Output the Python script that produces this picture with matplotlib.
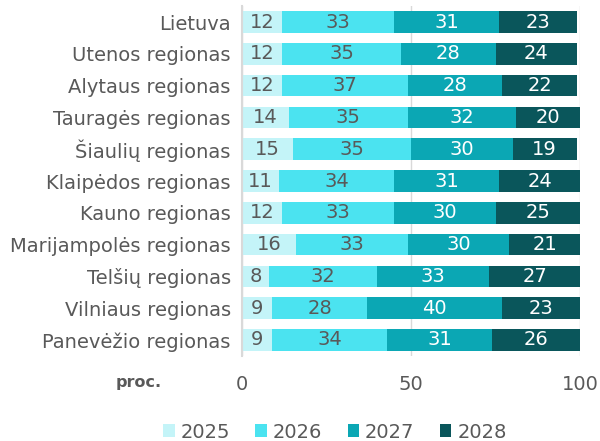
import numpy as np
import matplotlib.pyplot as plt

regions = ['Lietuva', 'Utenos regionas', 'Alytaus regionas', 'Tauragės regionas',
           'Šiaulių regionas', 'Klaipėdos regionas', 'Kauno regionas',
           'Marijampolės regionas', 'Telšių regionas', 'Vilniaus regionas',
           'Panevėžio regionas']
years = ['2025', '2026', '2027', '2028']
v2025 = [12, 12, 12, 14, 15, 11, 12, 16, 8, 9, 9]
v2026 = [33, 35, 37, 35, 35, 34, 33, 33, 32, 28, 34]
v2027 = [31, 28, 28, 32, 30, 31, 30, 30, 33, 40, 31]
v2028 = [23, 24, 22, 20, 19, 24, 25, 21, 27, 23, 26]

colors = ['#C4F4F8', '#4BE3F0', '#0BA7B4', '#0A565B']
text_colors = ['#595959', '#595959', 'white', 'white']
gray = '#595959'

fig = plt.figure(figsize=(6, 4.41), dpi=100)
ax = fig.add_axes([0.403, 0.193, 0.564, 0.793])

y = np.arange(len(regions))
left = np.zeros(len(regions))
for vals, col, tc, yr in zip([v2025, v2026, v2027, v2028], colors, text_colors, years):
    vals = np.array(vals)
    bars = ax.barh(y, vals, left=left, height=0.68, color=col, label=yr, zorder=2)
    ax.bar_label(bars, labels=[str(v) for v in vals], label_type='center',
                 color=tc, fontsize=14)
    left = left + vals

ax.set_ylim(len(regions) - 0.5, -0.5)
ax.set_xlim(0, 100)
ax.set_xticks([0, 50, 100])
ax.set_yticks(y)
ax.set_yticklabels(regions, fontsize=14, color=gray)
ax.tick_params(axis='x', labelsize=14, colors=gray, length=0, pad=14)
ax.tick_params(axis='y', length=0, pad=8)
ax.xaxis.grid(True, color='#D9D9D9', linewidth=1, zorder=0)
for s in ['top', 'right', 'bottom']:
    ax.spines[s].set_visible(False)
ax.spines['left'].set_color('#D9D9D9')
ax.spines['left'].set_linewidth(1.5)

fig.text(116 / 600, 1 - 382 / 441, 'proc.', fontsize=11.5, fontweight='bold',
         color=gray, ha='left', va='center')

handles, labels = ax.get_legend_handles_labels()
fig.legend(handles, labels, loc='center', bbox_to_anchor=(0.558, 1 - 432 / 441),
           ncol=4, frameon=False, fontsize=14, labelcolor=gray,
           handlelength=0.6, handleheight=0.6, handletextpad=0.3,
           columnspacing=1.3)

fig.savefig('out.png', dpi=100)
